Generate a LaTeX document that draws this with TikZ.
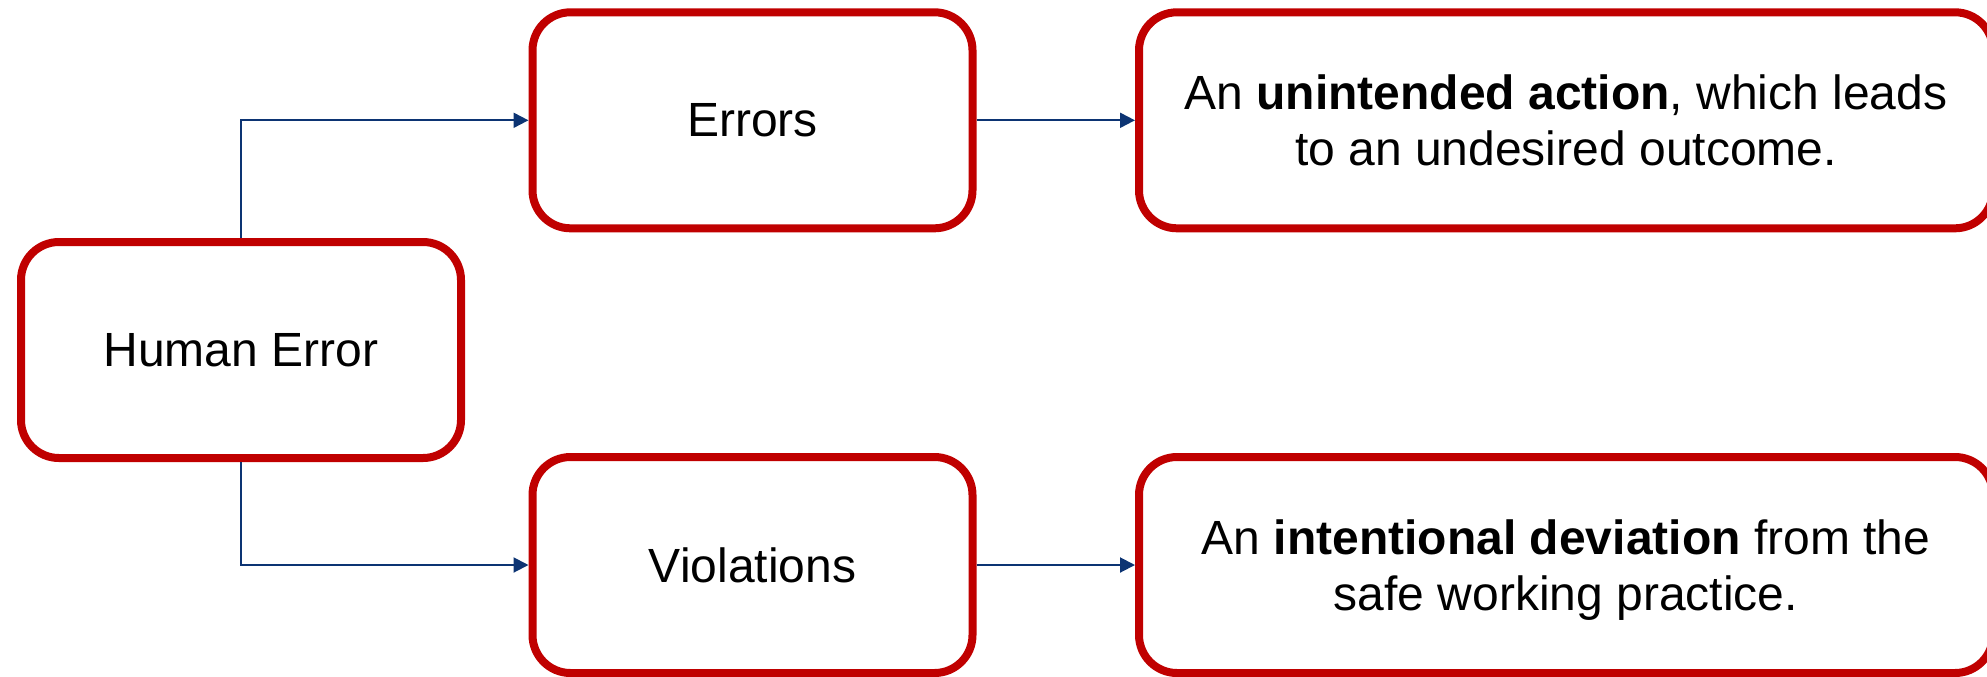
\documentclass[tikz,border=0pt]{standalone}
\usepackage{fontspec}
\setmainfont{Liberation Sans}
\usetikzlibrary{arrows.meta}
\definecolor{boxred}{RGB}{192,0,0}
\definecolor{linkblue}{RGB}{12,52,115}
\begin{document}
\begin{tikzpicture}[x=0.5pt,y=-0.5pt,
  box/.style={draw=boxred, line width=4pt, rounded corners=19pt, fill=white,
    minimum width=220pt, minimum height=108pt, inner sep=0pt,
    font=\fontsize{24}{28}\selectfont, align=center},
  widebox/.style={box, minimum width=427pt, text depth=0pt},
  link/.style={draw=linkblue, line width=1pt, -{Triangle[length=7.5pt,width=7.5pt]}}
]
\useasboundingbox (0,0) rectangle (1987,676);

% boxes
\node[box] (he)   at (241,350) {Human Error};
\node[box] (err)  at (752.5,120.3) {Errors};
\node[box] (viol) at (752.5,565) {Violations};
\node[widebox] (def1) at (1566,120.3)
  {An \textbf{unintended action}, which leads\\to an undesired outcome.};
\node[widebox] (def2) at (1566,565)
  {An \textbf{intentional deviation} from the\\safe working practice.};

% connectors
\draw[link] (he.north) |- (err.west);
\draw[link] (he.south) |- (viol.west);
\draw[link] (err) -- (def1);
\draw[link] (viol) -- (def2);
\end{tikzpicture}
\end{document}
